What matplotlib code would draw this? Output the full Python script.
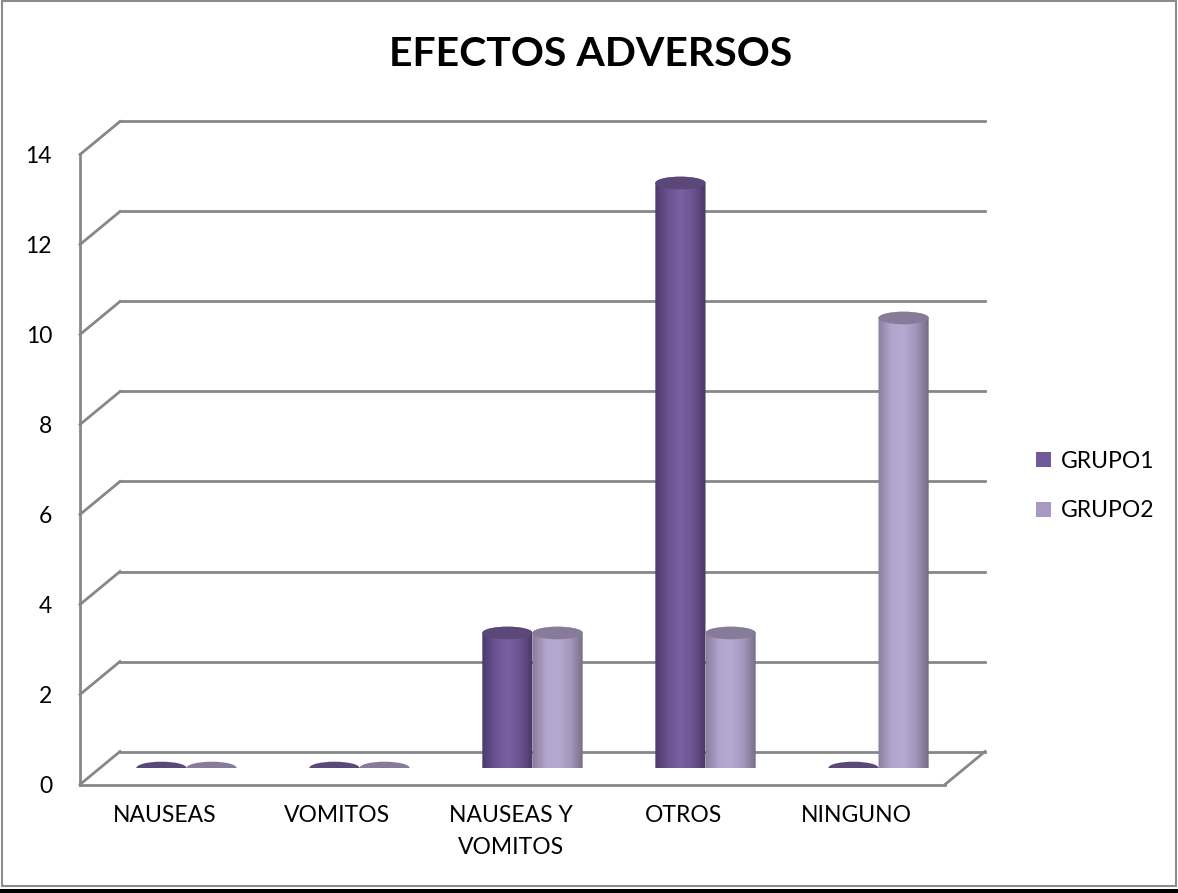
import numpy as np
import matplotlib
matplotlib.use("Agg")
import matplotlib.pyplot as plt
import matplotlib.transforms as mtransforms
from matplotlib.colors import LinearSegmentedColormap
from matplotlib.patches import Ellipse, PathPatch, Patch, Rectangle
from matplotlib.path import Path

categories = ["NAUSEAS", "VOMITOS", "NAUSEAS Y\nVOMITOS", "OTROS", "NINGUNO"]
grupo1 = [0, 0, 3, 13, 0]
grupo2 = [0, 0, 3, 3, 10]
series_names = ["GRUPO1", "GRUPO2"]
yticks = [0, 2, 4, 6, 8, 10, 12, 14]

plt.rcParams['font.family'] = ['Lato', 'DejaVu Sans']

fig = plt.figure(figsize=(11.78, 8.93), dpi=100)
ax = fig.add_axes([100 / 1178, 1 - 768 / 893, 865 / 1178, 630 / 893])
ax.set_xlim(-0.5, 4.5)
ax.set_ylim(0, 14)
for s in ax.spines.values():
    s.set_visible(False)

# depth offsets (front / back planes)
back = ax.transData + mtransforms.ScaledTranslation(0.20, 0.165, fig.dpi_scale_trans)
front = ax.transData + mtransforms.ScaledTranslation(-0.20, -0.165, fig.dpi_scale_trans)
grid_c = "#878787"

for v in yticks:
    ax.plot([-0.5, 4.5], [v, v], color=grid_c, lw=2, transform=back, clip_on=False, zorder=1)
    # diagonal from front to back on the left wall
    p0 = front.transform((-0.5, v))
    p1 = back.transform((-0.5, v))
    ax.plot([p0[0], p1[0]], [p0[1], p1[1]], color=grid_c, lw=2, transform=None,
            clip_on=False, zorder=1)

ax.plot([-0.5, -0.5], [0, 14], color=grid_c, lw=2, transform=front, clip_on=False, zorder=1)
# floor
ax.plot([-0.5, 4.5], [0, 0], color=grid_c, lw=2, transform=front, clip_on=False, zorder=1)
p0 = front.transform((4.5, 0))
p1 = back.transform((4.5, 0))
ax.plot([p0[0], p1[0]], [p0[1], p1[1]], color=grid_c, lw=2, transform=None,
        clip_on=False, zorder=1)

cmap1 = LinearSegmentedColormap.from_list("g1", ["#4d3a69", "#6a5290", "#7a62a2", "#6b5392", "#4a3866"])
cmap2 = LinearSegmentedColormap.from_list("g2", ["#8a7f9e", "#b3a4cc", "#b8a9d2", "#a395bb", "#766c86"])
cap1, cap2 = "#5b4879", "#867b98"
bw = 0.145   # half width of each cylinder
eh = 0.14    # half height of the ellipse caps


def cylinder(cx, v, cmap, cap):
    if v <= 0:
        ax.add_patch(Ellipse((cx, 0), 2 * bw, 2 * eh, facecolor=cap, edgecolor="none", zorder=3))
        return
    t1 = np.linspace(np.pi, 2 * np.pi, 40)
    t2 = np.linspace(0, np.pi, 40)
    xs = np.concatenate([[cx - bw], cx + bw * np.cos(t1), cx + bw * np.cos(t2)])
    ys = np.concatenate([[v], eh * np.sin(t1), v + eh * np.sin(t2)])
    verts = np.column_stack([xs, ys])
    body = PathPatch(Path(np.vstack([verts, verts[:1]]), closed=True), facecolor="none",
                     edgecolor="none", transform=ax.transData)
    ax.add_patch(body)
    grad = np.linspace(0, 1, 100).reshape(1, -1)
    im = ax.imshow(grad, cmap=cmap, aspect="auto", extent=[cx - bw, cx + bw, -eh, v + eh],
                   zorder=3, interpolation="bilinear")
    im.set_clip_path(body)
    ax.add_patch(Ellipse((cx, v), 2 * bw, 2 * eh, facecolor=cap, edgecolor="none", zorder=4))


x = np.arange(len(categories))
for i in x:
    cylinder(i - bw, grupo1[i], cmap1, cap1)
    cylinder(i + bw, grupo2[i], cmap2, cap2)

ax.set_xlim(-0.5, 4.5)
ax.set_ylim(0, 14)

ax.set_yticks(yticks)
ax.set_xticks(x)
ax.set_xticklabels(categories, fontsize=16.5, linespacing=1.6)
ax.tick_params(length=0, labelsize=16.5)
ax.tick_params(axis="y", pad=34.5)
ax.tick_params(axis="x", pad=15)
for lab in ax.get_yticklabels():
    lab.set_transform(lab.get_transform() + mtransforms.ScaledTranslation(0, -0.165, fig.dpi_scale_trans))
for lab in ax.get_xticklabels():
    lab.set_transform(lab.get_transform() + mtransforms.ScaledTranslation(-0.22, -0.165, fig.dpi_scale_trans))

handles = [Patch(facecolor="#725a9a", label=series_names[0]),
           Patch(facecolor="#a999c2", label=series_names[1])]
fig.legend(handles=handles, loc="center left", bbox_to_anchor=(1015 / 1178, 1 - 486 / 893),
           frameon=False, fontsize=16.5, handlelength=0.65, handleheight=0.65,
           handletextpad=0.45, labelspacing=1.25)

fig.text(0.501, 1 - 55 / 893, "EFECTOS ADVERSOS", ha="center", va="center",
         fontsize=29.5, fontweight="bold")

fig.patches.append(Rectangle((2 / 1178, 1 - 886 / 893), 1174 / 1178, 885 / 893,
                             transform=fig.transFigure, fill=False, edgecolor="#8c8c8c", lw=1.5))
fig.patches.append(Rectangle((0, 0), 1, 4 / 893, transform=fig.transFigure,
                             facecolor="black", edgecolor="none"))

fig.savefig("out.png", dpi=100)
